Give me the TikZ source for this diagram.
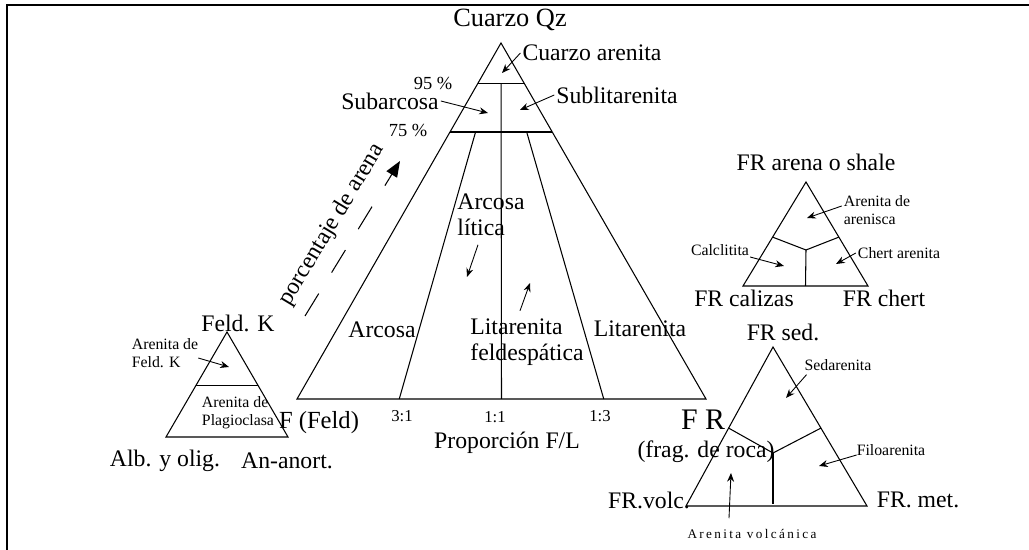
\documentclass[tikz,border=0pt]{standalone}
\usepackage{fontspec}
\setmainfont{Liberation Serif}
\newfontfamily\spacedfont[LetterSpace=18]{Liberation Serif}
\usetikzlibrary{arrows.meta,calc}

\tikzset{
  tri/.style={line width=0.6pt, line join=miter},
  arr/.style={line width=0.5pt, -{Stealth[length=5pt,width=4pt]}},
  lbl/.style={font=\fontsize{13.5}{14.5}\selectfont, inner sep=1pt},
  sml/.style={font=\fontsize{9}{10}\selectfont, inner sep=1pt, align=left},
  pct/.style={font=\fontsize{10.5}{12}\selectfont, inner sep=1pt},
  ratio/.style={font=\fontsize{9.5}{11}\selectfont, inner sep=1pt},
}

\begin{document}
\begin{tikzpicture}[x=0.02cm, y=-0.02cm]
  \useasboundingbox (0,0) rectangle (1029,550);
  % frame
  \draw[line width=1.4pt] (7,550) -- (7,5) -- (1029,5);

  % main triangle Qz - F - FR
  \coordinate (qz) at (501,43);
  \coordinate (fe) at (297,399);
  \coordinate (fr) at (706,399);
  \coordinate (q95l) at ($(qz)!0.115!(fe)$);
  \coordinate (q95r) at ($(qz)!0.115!(fr)$);
  \coordinate (q75l) at ($(qz)!0.25!(fe)$);
  \coordinate (q75r) at ($(qz)!0.25!(fr)$);
  \draw[tri] (qz) -- (fe) -- (fr) -- cycle;
  \draw[tri] (q95l) -- (q95r);
  \draw[tri] (q75l) -- (q75r);
  \draw[tri] ($(q95l)!0.5!(q95r)$) -- ($(fe)!0.5!(fr)$);
  \draw[tri] ($(q75l)!0.25!(q75r)$) -- ($(fe)!0.25!(fr)$);
  \draw[tri] ($(q75l)!0.75!(q75r)$) -- ($(fe)!0.75!(fr)$);

  \node[lbl, font=\fontsize{15}{16}\selectfont] (qzlbl) at (510,20) {Cuarzo Qz};
  \node[lbl] (qzar) at (592,53) {Cuarzo arenita};
  \node[pct] (p95) at (433,83) {95 \%};
  \node[lbl] (subarc) at (390,101) {Subarcosa};
  \node[lbl] (sublit) at (617,95) {Sublitarenita};
  \node[pct] (p75) at (408,130) {75 \%};
  \node[lbl, align=left] (arclit) at (491,215) {Arcosa\\lítica};
  \node[lbl] (arcosa) at (382,330) {Arcosa};
  \node[lbl, align=left] (litfeld) at (527,342) {Litarenita\\feldespática};
  \node[lbl] (litar) at (640,329) {Litarenita};
  \node[ratio] (r31) at (402,416) {3:1};
  \node[ratio] (r11) at (495,417) {1:1};
  \node[ratio] (r13) at (600,416) {1:3};
  \node[lbl] (propfl) at (507,443) {Proporción F/L};
  \node[lbl, font=\fontsize{14}{15}\selectfont] (feld) at (319,423) {F (Feld)};
  \node[lbl, font=\fontsize{17}{18}\selectfont] (frbig) at (703,420) {F R};
  \node[lbl] (fragroca) at (706,452) {(frag. de roca)};
  \node[lbl, rotate=59] (porc) at (332,225) {porcentaje de arena};

  \coordinate (t-qzar) at (502,73);
  \coordinate (t-subarc) at (488,113);
  \coordinate (t-sublit) at (520,110);
  \coordinate (t-arclit) at (467,277);
  \coordinate (t-litfeld) at (530,283);
  \draw[arr] (qzar.west) -- (t-qzar);
  \draw[arr] (subarc.east) -- (t-subarc);
  \draw[arr] (sublit.west) -- (t-sublit);
  \draw[arr] ($(arclit.south)+(-13,7)$) -- (t-arclit);
  \draw[arr] ($(litfeld.north)+(-7,-6)$) -- (t-litfeld);

  \coordinate (pa1) at (305,316);
  \coordinate (pa2) at (400,161);
  \draw[line width=0.6pt, dash pattern=on 15pt off 14pt, -{Triangle[length=9pt,width=7pt]}] (pa1) -- (pa2);

  % Feld. K triangle
  \coordinate (fk) at (227,332);
  \coordinate (alb) at (166,437);
  \coordinate (an) at (288,437);
  \draw[tri] (fk) -- (alb) -- (an) -- cycle;
  \draw[tri] ($(fk)!0.514!(alb)$) -- ($(fk)!0.514!(an)$);

  \node[lbl] (feldk) at (238,323) {Feld. K};
  \node[sml] (akf) at (165,353) {Arenita de\\Feld. K};
  \node[sml] (apl) at (238,413) {Arenita de\\Plagioclasa};
  \node[lbl] (albolig) at (165,461) {Alb. y olig.};
  \node[lbl] (ananort) at (287,461) {An-anort.};
  \coordinate (t-akf) at (229,367);
  \draw[arr] ($(akf.east)+(-2,5)$) -- (t-akf);

  % FR sedimentarios triangle
  \coordinate (sh) at (806,182);
  \coordinate (cz) at (743,286);
  \coordinate (ch) at (868,286);
  \coordinate (shc) at (806,250);
  \draw[tri] (sh) -- (cz) -- (ch) -- cycle;
  \draw[tri] ($(sh)!0.53!(cz)$) -- (shc) -- ($(sh)!0.53!(ch)$);
  \draw[tri] (shc) -- ($(cz)!0.5!(ch)$);

  \node[lbl] (frshale) at (816,162) {FR arena o shale};
  \node[sml] (aar) at (877,210) {Arenita de\\arenisca};
  \node[sml] (calcl) at (720,250) {Calclitita};
  \node[sml] (chertar) at (899,253) {Chert arenita};
  \node[lbl] (frcal) at (744,298) {FR calizas};
  \node[lbl] (frchert) at (884,298) {FR chert};
  \coordinate (t-aar) at (807,218);
  \coordinate (t-calcl) at (784,266);
  \coordinate (t-chertar) at (836,264);
  \draw[arr] ($(aar.west)+(0,-4)$) -- (t-aar);
  \draw[arr] ($(calcl.east)+(-1,7)$) -- (t-calcl);
  \draw[arr] (chertar.west) -- (t-chertar);

  % FR triangle
  \coordinate (sd) at (773,347);
  \coordinate (vo) at (686,506);
  \coordinate (me) at (867,506);
  \coordinate (sdc) at (773,453);
  \draw[tri] (sd) -- (vo) -- (me) -- cycle;
  \draw[tri] ($(sd)!0.51!(vo)$) -- (sdc) -- ($(sd)!0.51!(me)$);
  \draw[tri] (sdc) -- (773,504);

  \node[lbl] (frsed) at (783,332) {FR sed.};
  \node[sml] (sedar) at (838,365) {Sedarenita};
  \node[sml] (filo) at (891,450) {Filoarenita};
  \node[lbl] (frvolc) at (649,500) {FR.volc.};
  \node[lbl] (frmet) at (918,500) {FR. met.};
  \node[inner sep=1pt, font=\spacedfont\fontsize{7.5}{9}\selectfont] (avolc) at (752,534) {Arenita volcánica};
  \coordinate (t-sedar) at (786,398);
  \coordinate (t-filo) at (819,466);
  \coordinate (t-avolc) at (731,473);
  \draw[arr] ($(sedar.south west)+(4,2)$) -- (t-sedar);
  \draw[arr] ($(filo.west)+(2,5)$) -- (t-filo);
  \draw[arr] ($(avolc.north)+(-23,-9)$) -- (t-avolc);
\end{tikzpicture}
\end{document}
